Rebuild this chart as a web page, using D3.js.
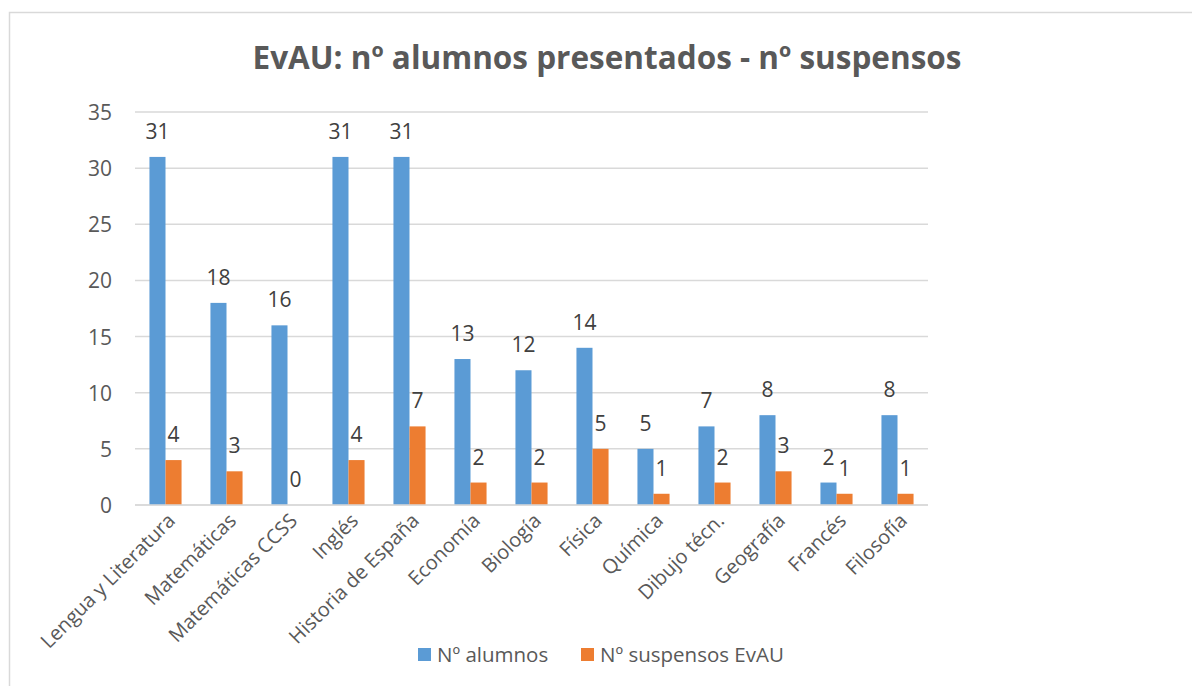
<!DOCTYPE html>
<html>
<head>
<meta charset="utf-8">
<script src="https://cdn.jsdelivr.net/npm/d3@7"></script>
<style>
  body { margin: 0; background: #fff; }
  text { font-family: "Open Sans", sans-serif; }
</style>
</head>
<body>
<div id="chart"></div>
<script>
var subjects = ["Lengua y Literatura", "Matemáticas", "Matemáticas CCSS", "Inglés", "Historia de España",
                "Economía", "Biología", "Física", "Química", "Dibujo técn.", "Geografía", "Francés", "Filosofía"];
var alumnos = [31, 18, 16, 31, 31, 13, 12, 14, 5, 7, 8, 2, 8];
var suspensos = [4, 3, 0, 4, 7, 2, 2, 5, 1, 2, 3, 1, 1];
var seriesNames = ["Nº alumnos", "Nº suspensos EvAU"];
var yTicks = [0, 5, 10, 15, 20, 25, 30, 35];
var colors = ["#5b9bd5", "#ed7d31"];

function draw(){
    var width = 1192, height = 686;
    var margin = {top: 112, right: 264, bottom: 181, left: 135};
    var svg = d3.select("#chart").append("svg")
        .attr("width", width)
        .attr("height", height);

    // frame
    svg.append("rect")
       .attr("x", 9.5).attr("y", 12.5)
       .attr("width", 1300).attr("height", 800)
       .attr("fill", "none")
       .attr("stroke", "#d9d9d9")
       .attr("stroke-width", 1.5);

    var xScale = d3.scaleBand()
        .domain(subjects)
        .range([margin.left, width - margin.right]);
    var xInner = d3.scaleBand()
        .domain([0, 1])
        .range([0, xScale.bandwidth()])
        .paddingInner(0)
        .paddingOuter(0.9);
    var yScale = d3.scaleLinear()
        .domain([0, 35])
        .range([height - margin.bottom, margin.top]);

    // grid
    svg.append("g").selectAll("line")
       .data(yTicks)
       .enter().append("line")
       .attr("x1", margin.left).attr("x2", width - margin.right)
       .attr("y1", d => yScale(d)).attr("y2", d => yScale(d))
       .attr("stroke", "#d9d9d9")
       .attr("stroke-width", 1.5);

    var yAxis = svg.append("g")
        .attr("transform", "translate(" + (margin.left - 23) + ",0)")
        .call(d3.axisLeft(yScale).tickValues(yTicks).tickSize(0).tickPadding(0));
    yAxis.select(".domain").remove();
    yAxis.selectAll("text")
         .attr("fill", "#595959")
         .style("font-family", "'Open Sans', sans-serif")
         .style("font-size", "21px")
         .attr("dy", "0.36em");

    var series = [alumnos, suspensos];
    series.forEach(function(vals, s){
        var g = svg.append("g");
        g.selectAll("rect")
         .data(subjects)
         .enter().append("rect")
         .attr("x", (d) => xScale(d) + xInner(s))
         .attr("y", (d, i) => yScale(vals[i]))
         .attr("width", xInner.bandwidth())
         .attr("height", (d, i) => yScale(0) - yScale(vals[i]))
         .attr("fill", colors[s]);
        g.selectAll("text")
         .data(subjects)
         .enter().append("text")
         .attr("x", (d) => xScale(d) + xInner(s) + xInner.bandwidth() / 2)
         .attr("y", (d, i) => yScale(vals[i]) - 18)
         .attr("text-anchor", "middle")
         .attr("fill", "#404040")
         .style("font-size", "21px")
         .text((d, i) => vals[i]);
    });

    // zero line on top
    svg.append("line")
       .attr("x1", margin.left).attr("x2", width - margin.right)
       .attr("y1", yScale(0)).attr("y2", yScale(0))
       .attr("stroke", "#d9d9d9")
       .attr("stroke-width", 1.5);

    // x labels
    svg.append("g").selectAll("text")
       .data(subjects)
       .enter().append("text")
       .attr("transform", d => "translate(" + (xScale(d) + xScale.bandwidth() / 2 + 6) + "," + (yScale(0) + 12) + ") rotate(-45)")
       .attr("text-anchor", "end")
       .attr("dy", "0.35em")
       .attr("fill", "#595959")
       .style("font-size", "20px")
       .text(d => d);

    // title
    svg.append("text")
       .attr("x", 607).attr("y", 69)
       .attr("text-anchor", "middle")
       .attr("fill", "#595959")
       .style("font-size", "31.5px")
       .style("font-weight", "bold")
       .text("EvAU: nº alumnos presentados - nº suspensos");

    // legend
    var legX = [418, 581];
    seriesNames.forEach(function(name, s){
        svg.append("rect")
           .attr("x", legX[s]).attr("y", 648)
           .attr("width", 13).attr("height", 13)
           .attr("fill", colors[s]);
        svg.append("text")
           .attr("x", legX[s] + 19).attr("y", 662)
           .attr("fill", "#595959")
           .style("font-size", "20.5px")
           .text(name);
    });
}

draw();
</script>
</body>
</html>
